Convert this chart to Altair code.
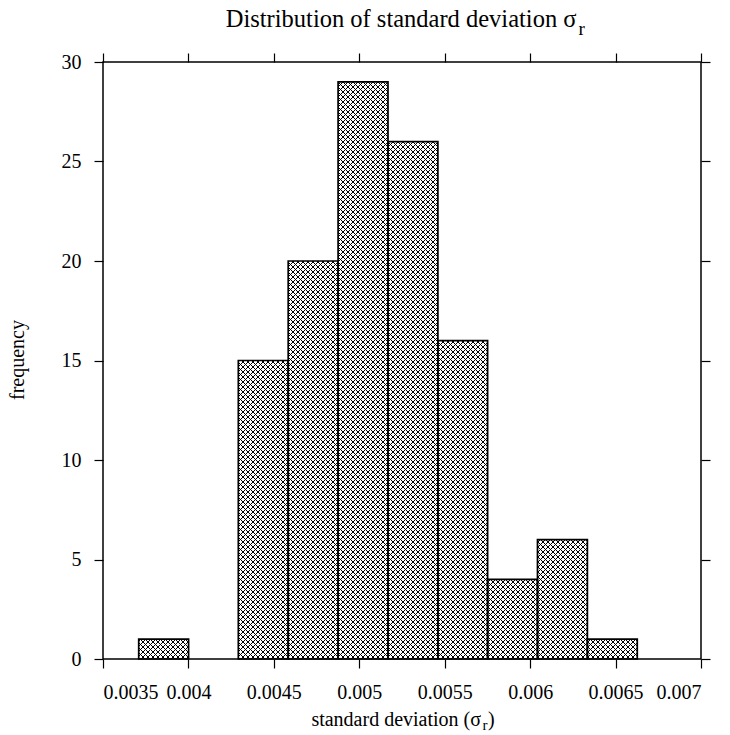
import altair as alt
import numpy as np
import pandas as pd

# Histogram bins (lower / upper edges) and their counts
bin_start = [0.003709, 0.004001, 0.004292, 0.004584, 0.004876,
             0.005168, 0.005460, 0.005751, 0.006043, 0.006335]
bin_end = [0.004001, 0.004292, 0.004584, 0.004876, 0.005168,
           0.005460, 0.005751, 0.006043, 0.006335, 0.006627]
counts = [1, 0, 15, 20, 29, 26, 16, 4, 6, 1]

x_ticks = [0.0035, 0.004, 0.0045, 0.005, 0.0055, 0.006, 0.0065, 0.007]
y_ticks = [0, 5, 10, 15, 20, 25, 30]

W, H = 598, 597
X0, X1 = 0.0035, 0.007
Y0, Y1 = 0, 30
HATCH = 5.0  # crosshatch spacing in pixels
FONT = "Liberation Serif"


def px_x(v):
    return (v - X0) / (X1 - X0) * W


def px_y(v):
    return H - (v - Y0) / (Y1 - Y0) * H


def dx(p):
    return X0 + p / W * (X1 - X0)


def dy(p):
    return Y0 + (H - p) / H * (Y1 - Y0)


bars = pd.DataFrame({"lo": bin_start, "hi": bin_end, "n": counts})
bars = bars[bars["n"] > 0]

# Crosshatch segments clipped to every bar, built in pixel space
segs = []
for lo, hi, n in zip(bars["lo"], bars["hi"], bars["n"]):
    x0, x1 = px_x(lo), px_x(hi)
    y0, y1 = px_y(n), px_y(0)
    for c in np.arange(np.floor((x0 + y0) / HATCH) * HATCH, x1 + y1 + HATCH, HATCH):
        a, b = max(x0, c - y1), min(x1, c - y0)
        if b - a > 0.3:
            segs.append((dx(a), dy(c - a), dx(b), dy(c - b)))
    for c in np.arange(np.floor((x0 - y1) / HATCH) * HATCH, x1 - y0 + HATCH, HATCH):
        a, b = max(x0, c + y0), min(x1, c + y1)
        if b - a > 0.3:
            segs.append((dx(a), dy(a - c), dx(b), dy(b - c)))
hatch_df = pd.DataFrame(segs, columns=["x", "y", "x2", "y2"])

xs = alt.Scale(domain=[X0, X1], nice=False, zero=False)
ys = alt.Scale(domain=[Y0, Y1], nice=False)

axis_common = dict(grid=False, domain=False, tickColor="black", tickSize=9,
                   tickWidth=1.2, labelFont=FONT, labelFontSize=20,
                   labelColor="black", title=None)

hatch = alt.Chart(hatch_df).mark_rule(color="black", strokeWidth=1.0).encode(
    x=alt.X("x:Q", scale=xs, axis=alt.Axis(orient="top", values=x_ticks, labels=False, **axis_common)),
    x2="x2:Q",
    y=alt.Y("y:Q", scale=ys, axis=alt.Axis(orient="right", values=y_ticks, labels=False, **axis_common)),
    y2="y2:Q",
)

outline = alt.Chart(bars).mark_rect(fillOpacity=0, stroke="black", strokeWidth=1.7).encode(
    x=alt.X("lo:Q", scale=xs, axis=alt.Axis(orient="bottom", values=x_ticks, format=".4~f",
                                           labelPadding=14, **axis_common)),
    x2="hi:Q",
    y=alt.Y("n:Q", scale=ys, axis=alt.Axis(orient="left", values=y_ticks,
                                          labelPadding=13, **axis_common)),
    y2=alt.datum(0),
)

one = pd.DataFrame({"k": [0]})


def label(text, x, y, size, align="left", angle=0):
    return alt.Chart(one).mark_text(
        text=text, font=FONT, fontSize=size, color="black", align=align,
        baseline="alphabetic", angle=angle,
    ).encode(x=alt.value(x), y=alt.value(y))


texts = [
    label("Distribution of standard deviation σ", 473.5, -35, 24.5, align="right"),
    label("r", 475.5, -27.5, 19),
    label("standard deviation (σ", 378, 664, 20, align="right"),
    label("r", 379.5, 668, 15),
    label(")", 385, 664, 20),
    label("frequency", -79, 298, 20, align="center", angle=270),
]

chart = alt.layer(hatch, outline, *texts).resolve_axis(
    x="independent", y="independent"
).properties(
    width=W, height=H, autosize="none",
    padding={"left": 103, "top": 62, "right": 29, "bottom": 76},
).configure_view(stroke="black", strokeWidth=1.5)

chart.save("out.html", embed_options={"renderer": "svg", "actions": False})
